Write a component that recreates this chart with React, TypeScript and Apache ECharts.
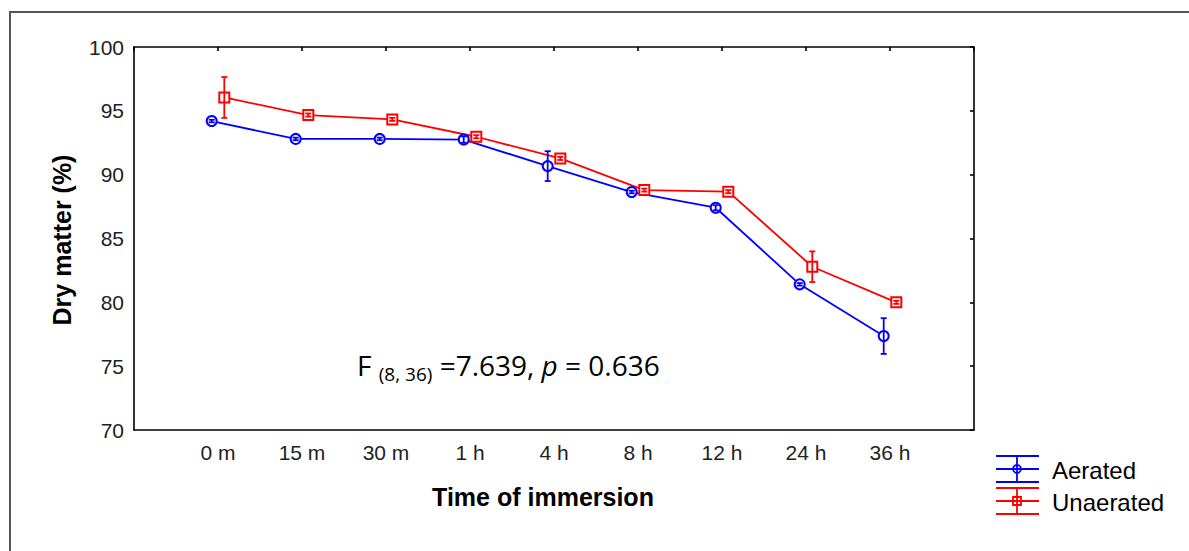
import React, { useEffect, useRef } from "react";
import * as echarts from "echarts";

const categories = ["0 m", "15 m", "30 m", "1 h", "4 h", "8 h", "12 h", "24 h", "36 h"];
const aerated = [94.2, 92.8, 92.8, 92.75, 90.67, 88.64, 87.41, 81.41, 77.36];
const aeratedErr = [0.1, 0.1, 0.1, 0.25, 1.17, 0.1, 0.2, 0.1, 1.4];
const unaerated = [96.05, 94.67, 94.33, 92.97, 91.27, 88.79, 88.67, 82.79, 80.0];
const unaeratedErr = [1.6, 0.12, 0.12, 0.12, 0.12, 0.12, 0.12, 1.2, 0.12];
const yTicks = [70, 75, 80, 85, 90, 95, 100];

const OFFSET = 0.075;
const BLUE = "#0000ff";
const RED = "#ff0000";
const FONT = "'Liberation Sans', Arial, sans-serif";
const ANN_FONT = "'Open Sans', sans-serif";

function errorSeries(values: number[], errs: number[], shift: number, color: string) {
  const data = values.map((v, i) => [i + 1 + shift, v, errs[i]]);
  return {
    type: "custom",
    z: 5,
    silent: true,
    data,
    renderItem: (params: any, api: any) => {
      const x = api.value(0);
      const y = api.value(1);
      const e = api.value(2);
      const top = api.coord([x, y + e]);
      const bot = api.coord([x, y - e]);
      const cw = 3;
      const st = { stroke: color, lineWidth: 1.8 };
      return {
        type: "group",
        children: [
          { type: "line", shape: { x1: top[0], y1: top[1], x2: bot[0], y2: bot[1] }, style: st },
          { type: "line", shape: { x1: top[0] - cw, y1: top[1], x2: top[0] + cw, y2: top[1] }, style: st },
          { type: "line", shape: { x1: bot[0] - cw, y1: bot[1], x2: bot[0] + cw, y2: bot[1] }, style: st },
        ],
      };
    },
  };
}

function legendItem(y: number, color: string, label: string, square: boolean) {
  const st = { stroke: color, lineWidth: 1.8 };
  const x1 = 996, x2 = 1039, xc = 1017;
  const children: any[] = [
    { type: "line", shape: { x1, y1: y - 13, x2, y2: y - 13 }, style: st },
    { type: "line", shape: { x1, y1: y, x2, y2: y }, style: st },
    { type: "line", shape: { x1, y1: y + 13, x2, y2: y + 13 }, style: st },
    { type: "line", shape: { x1: xc, y1: y - 13, x2: xc, y2: y + 13 }, style: st },
    square
      ? { type: "rect", shape: { x: xc - 4, y: y - 4, width: 8, height: 8 }, style: { stroke: color, fill: "none", lineWidth: 1.8 } }
      : { type: "circle", shape: { cx: xc, cy: y, r: 4 }, style: { stroke: color, fill: "none", lineWidth: 1.8 } },
    {
      type: "text",
      x: 1052,
      y: y + 1,
      style: { text: label, font: `24px ${FONT}`, fill: "#000", textVerticalAlign: "middle", textAlign: "left" },
    },
  ];
  return { type: "group", children };
}

export default function App() {
  const ref = useRef<HTMLDivElement>(null);
  useEffect(() => {
    if (!ref.current) return;
    const chart = echarts.init(ref.current, null, { renderer: "svg" });
    const option: any = {
      animation: false,
      backgroundColor: "#fff",
      grid: { left: 134, top: 47, right: 215, bottom: 121, containLabel: false },
      xAxis: [
        {
          type: "value",
          min: 0,
          max: 10,
          interval: 1,
          position: "bottom",
          axisLine: { show: true, onZero: false, lineStyle: { color: "#000", width: 1.6 } },
          axisTick: { show: false },
          splitLine: { show: false },
          axisLabel: {
            margin: 12,
            fontSize: 21,
            fontFamily: FONT,
            color: "#222",
            formatter: (v: number) => (v >= 1 && v <= 9 ? categories[v - 1] : ""),
          },
        },
        {
          type: "value",
          min: 0,
          max: 10,
          interval: 1,
          position: "top",
          axisLine: { show: true, onZero: false, lineStyle: { color: "#000", width: 1.6 } },
          axisTick: {
            show: true,
            inside: true,
            length: 4,
            lineStyle: { color: "#000", width: 1.6 },
            interval: (i: number, v: any) => Number(v) >= 1 && Number(v) <= 9,
          },
          axisLabel: { show: false },
          splitLine: { show: false },
        },
      ],
      yAxis: [
        {
          type: "value",
          min: 70,
          max: 100,
          interval: 5,
          axisLine: { show: true, onZero: false, lineStyle: { color: "#000", width: 1.6 } },
          axisTick: { show: false },
          splitLine: { show: false },
          axisLabel: {
            margin: 10,
            fontSize: 21,
            fontFamily: FONT,
            color: "#222",
            formatter: (v: number) => (yTicks.includes(v) ? String(v) : ""),
          },
        },
        {
          type: "value",
          min: 70,
          max: 100,
          interval: 5,
          position: "right",
          axisLine: { show: true, onZero: false, lineStyle: { color: "#000", width: 1.6 } },
          axisTick: { show: true, inside: true, length: 4, lineStyle: { color: "#000", width: 1.6 } },
          axisLabel: { show: false },
          splitLine: { show: false },
        },
      ],
      series: [
        {
          name: "Aerated",
          type: "line",
          z: 3,
          data: aerated.map((v, i) => [i + 1 - OFFSET, v]),
          symbol: "emptyCircle",
          symbolSize: 10,
          lineStyle: { color: BLUE, width: 1.8 },
          itemStyle: { color: BLUE, borderWidth: 2 },
        },
        {
          name: "Unaerated",
          type: "line",
          z: 3,
          data: unaerated.map((v, i) => [i + 1 + OFFSET, v]),
          symbol: "emptyRect",
          symbolSize: 10,
          lineStyle: { color: RED, width: 1.8 },
          itemStyle: { color: RED, borderWidth: 2 },
        },
        errorSeries(aerated, aeratedErr, -OFFSET, BLUE),
        errorSeries(unaerated, unaeratedErr, OFFSET, RED),
      ],
      graphic: [
        {
          type: "rect",
          z: -1,
          shape: { x: 10, y: 12, width: 1300, height: 700 },
          style: { fill: "none", stroke: "#555", lineWidth: 2 },
        },
        {
          type: "text",
          x: 543,
          y: 497,
          style: {
            text: "Time of immersion",
            font: `bold 25px ${FONT}`,
            fill: "#000",
            textAlign: "center",
            textVerticalAlign: "middle",
          },
        },
        {
          type: "text",
          x: 62,
          y: 240,
          rotation: Math.PI / 2,
          style: {
            text: "Dry matter (%)",
            font: `bold 25px ${FONT}`,
            fill: "#000",
            textAlign: "center",
            textVerticalAlign: "middle",
          },
        },
        {
          type: "text",
          x: 357,
          y: 362,
          style: {
            text: "{a|F }{s|(8, 36)}{a| =7.639, }{i|p}{a| = 0.636}",
            textVerticalAlign: "middle",
            rich: {
              a: { fontSize: 28, fontFamily: ANN_FONT, fill: "#000", lineHeight: 34, verticalAlign: "bottom" },
              s: { fontSize: 19, fontFamily: ANN_FONT, fill: "#000", lineHeight: 34, verticalAlign: "bottom", padding: [0, 0, -4, 0] },
              i: { fontSize: 28, fontStyle: "italic", fontFamily: ANN_FONT, fill: "#000", lineHeight: 34, verticalAlign: "bottom" },
            },
          },
        },
        legendItem(469, BLUE, "Aerated", false),
        legendItem(501, RED, "Unaerated", true),
      ],
    };
    chart.setOption(option);
    return () => chart.dispose();
  }, []);
  return (
    <div
      ref={ref}
      style={{ position: "fixed", left: 0, top: 0, width: 1189, height: 551, background: "#fff" }}
    />
  );
}
